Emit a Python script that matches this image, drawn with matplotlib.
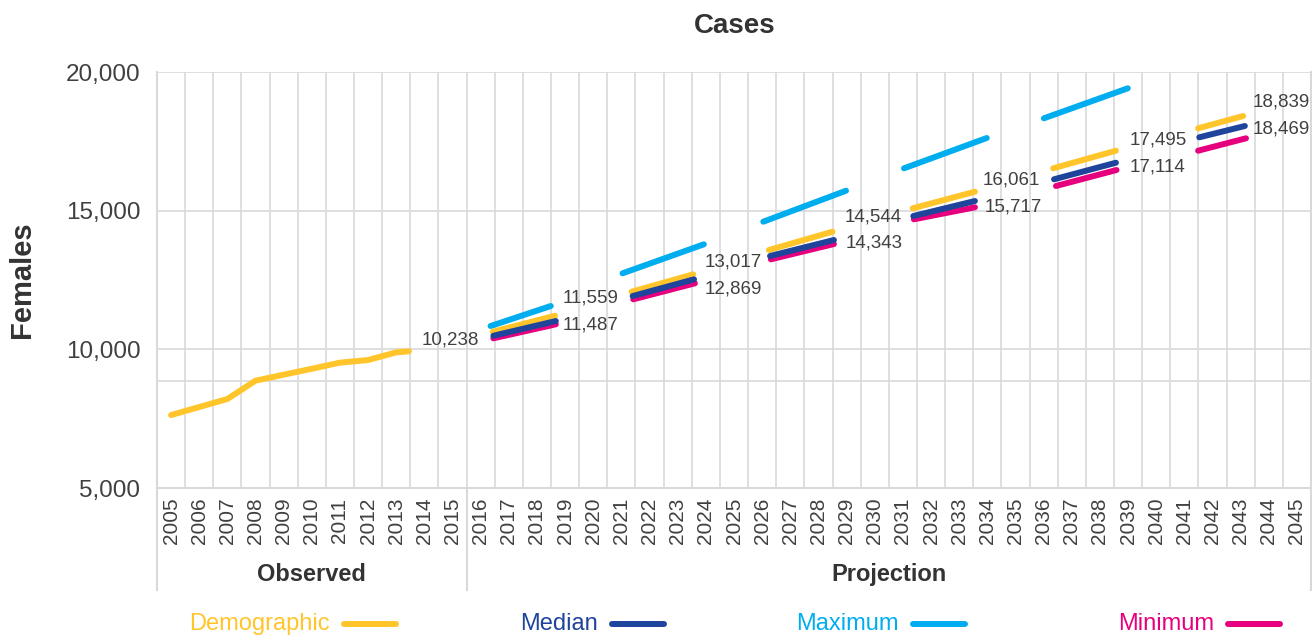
import numpy as np
import matplotlib.pyplot as plt
from matplotlib.lines import Line2D

plt.rcParams['font.family'] = ['Liberation Sans', 'DejaVu Sans']

# categories
years = list(range(2005, 2046))
groups = ['Observed', 'Projection']
group_edges = [2004.5, 2015.5, 2045.5]

# observed cases (demographic colour)
obs_x = [2005, 2006, 2007, 2008, 2009, 2010, 2011, 2012, 2013, 2013.45]
obs_v = [7630, 7920, 8210, 8870, 9085, 9300, 9520, 9615, 9890, 9930]

# projection segments: start/end position and start/end value
dem_x0 = [2016.43, 2021.36, 2026.24, 2031.35, 2036.34, 2041.49]
dem_x1 = [2018.64, 2023.55, 2028.50, 2033.56, 2038.57, 2043.09]
dem_v0 = [10635, 12077, 13581, 15085, 16527, 17970]
dem_v1 = [11212, 12705, 14241, 15683, 17162, 18413]

med_x0 = [2016.45, 2021.40, 2026.28, 2031.37, 2036.37, 2041.53]
med_x1 = [2018.67, 2023.58, 2028.55, 2033.56, 2038.57, 2043.15]
med_v0 = [10490, 11922, 13365, 14807, 16131, 17645]
med_v1 = [11021, 12524, 13942, 15348, 16729, 18053]

max_x0 = [2016.35, 2021.04, 2026.04, 2031.04, 2036.01]
max_x1 = [2018.49, 2023.93, 2028.98, 2033.98, 2038.99]
max_v0 = [10840, 12741, 14602, 16527, 18330]
max_v1 = [11562, 13787, 15719, 17620, 19412]

min_x0 = [2016.45, 2021.42, 2026.31, 2031.39, 2036.44, 2041.49]
min_x1 = [2018.67, 2023.61, 2028.55, 2033.56, 2038.59, 2043.19]
min_v0 = [10397, 11803, 13246, 14688, 15889, 17162]
min_v1 = [10902, 12380, 13797, 15121, 16466, 17609]

# data labels
lab_text = ['10,238', '11,559', '11,487', '13,017', '12,869', '14,544', '14,343',
            '16,061', '15,717', '17,495', '17,114', '18,839', '18,469']
lab_x = [2015.94, 2018.92, 2018.92, 2023.97, 2023.97, 2030.97, 2028.98,
         2033.84, 2033.91, 2039.06, 2039.06, 2043.43, 2043.43]
lab_v = [10335, 11850, 10876, 13148, 12175, 14771, 13833,
         16105, 15132, 17548, 16574, 18918, 17944]
lab_ha = ['right', 'left', 'left', 'left', 'left', 'right', 'left',
          'left', 'left', 'left', 'left', 'left', 'left']

yticks = [5000, 10000, 15000, 20000]
extra_gridline = 8850

c_dem = '#FFC52A'
c_med = '#1F449C'
c_max = '#00AEEF'
c_min = '#E6007E'
c_grid = '#D9D9D9'
c_text = '#404040'
lw = 4.3

W, H = 1312, 637
fig = plt.figure(figsize=(W / 100, H / 100), dpi=100)
ax = fig.add_axes([157 / W, 1 - 488 / H, (W - 158) / W, 416 / H])
ax.set_xlim(2004.5, 2045.5)
ax.set_ylim(5000, 20000)

# grid
ax.set_xticks(np.arange(2004.5, 2046, 1), minor=True)
ax.grid(which='minor', axis='x', color=c_grid, lw=1.2)
ax.set_yticks(yticks)
ax.set_yticklabels([f'{v:,}' for v in yticks])
ax.grid(which='major', axis='y', color=c_grid, lw=1.2)
ax.axhline(extra_gridline, color=c_grid, lw=1.2, zorder=0.5)
ax.set_axisbelow(True)
ax.spines['top'].set_visible(False)
for s in ['left', 'bottom', 'right']:
    ax.spines[s].set_color(c_grid)
    ax.spines[s].set_linewidth(1.5)

ax.set_xticks(years)
ax.set_xticklabels([str(y) for y in years], rotation=90, fontsize=15, color=c_text)
ax.tick_params(axis='x', which='both', length=0, pad=7)
ax.tick_params(axis='y', length=0, pad=12, labelsize=17.5, labelcolor=c_text)

# series
ax.plot(obs_x, obs_v, color=c_dem, lw=lw, solid_capstyle='round', solid_joinstyle='round')
for xs0, xs1, vs0, vs1, col in [(max_x0, max_x1, max_v0, max_v1, c_max),
                                (dem_x0, dem_x1, dem_v0, dem_v1, c_dem),
                                (min_x0, min_x1, min_v0, min_v1, c_min),
                                (med_x0, med_x1, med_v0, med_v1, c_med)]:
    for a, b, u, v in zip(xs0, xs1, vs0, vs1):
        ax.plot([a, b], [u, v], color=col, lw=lw, solid_capstyle='round')

for t, x, v, ha in zip(lab_text, lab_x, lab_v, lab_ha):
    ax.text(x, v, t, ha=ha, va='center', fontsize=13.5, color=c_text)

# category group box below the axis
tr = ax.get_xaxis_transform()
for e in group_edges:
    ax.plot([e, e], [0, -0.245], transform=tr, color=c_grid, lw=1.5, clip_on=False)
for g, a, b in zip(groups, group_edges[:-1], group_edges[1:]):
    ax.text((a + b) / 2, -0.207, g, transform=tr, ha='center', va='center',
            fontsize=17, fontweight='bold', color='#333333')

fig.text((157 + W) / 2 / W, 1 - 26 / H, 'Cases', ha='center', va='center',
         fontsize=20, fontweight='bold', color='#333333')
fig.text(22 / W, 1 - 280 / H, 'Females', rotation=90, ha='center', va='center',
         fontsize=21, fontweight='bold', color='#333333')

# legend
leg_names = ['Demographic', 'Median', 'Maximum', 'Minimum']
leg_cols = [c_dem, c_med, c_max, c_min]
leg_text_right = [330, 598, 899, 1214]
ly = 1 - 624 / H
for name, col, xr in zip(leg_names, leg_cols, leg_text_right):
    fig.text(xr / W, ly, name, ha='right', va='center', fontsize=17, color=col)
    fig.add_artist(Line2D([(xr + 14) / W, (xr + 66) / W], [ly, ly], color=col,
                          lw=lw, solid_capstyle='round'))

fig.savefig('out.png', dpi=100)
